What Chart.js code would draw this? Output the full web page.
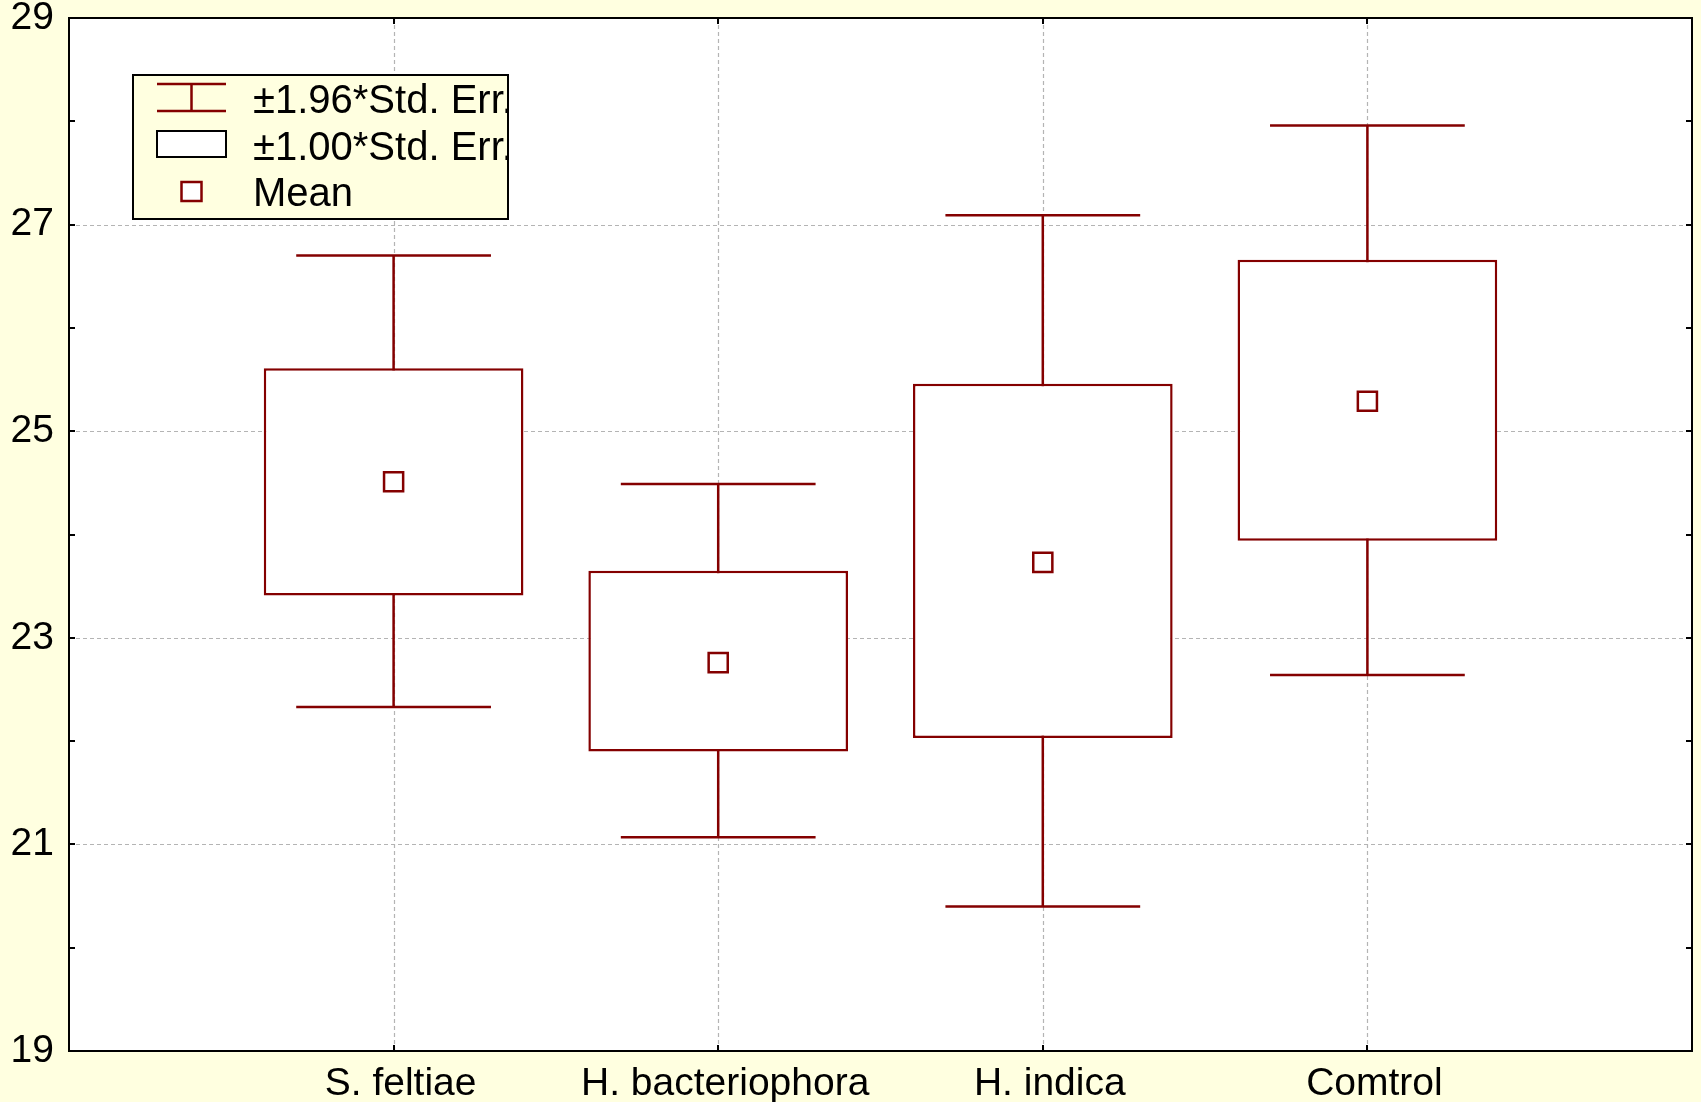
<!DOCTYPE html>
<html><head><meta charset="utf-8">
<script src="https://cdn.jsdelivr.net/npm/chart.js@4/dist/chart.umd.min.js"></script>
<style>html,body{margin:0;padding:0;background:#FFFFE0;overflow:hidden}canvas{display:block}</style>
</head><body><canvas id="c" width="1701" height="1102" style="width:1701px;height:1102px"></canvas>
<script>
// ---- data ----
const categories = ['S. feltiae', 'H. bacteriophora', 'H. indica', 'Comtrol'];
const means  = [24.51, 22.76, 23.73, 25.29];
const seLow  = [23.41, 21.90, 22.03, 23.94];
const seHigh = [25.61, 23.65, 25.46, 26.66];
const ciLow  = [22.33, 21.07, 20.40, 22.64];
const ciHigh = [26.70, 24.49, 27.09, 27.96];
const yTickLabels = [19, 21, 23, 25, 27, 29];
const legendLabels = ['±1.96*Std. Err.', '±1.00*Std. Err.', 'Mean'];

// ---- style ----
const RED = '#840000';
const BG = '#FFFFE0';
const FONT = "'Liberation Sans', Arial, sans-serif";
const CAP_HALF = 0.3;
const LW = 2.5;

const xPos = categories.map((c, i) => i + 1);

const whiskerData = [];
const capData = [];
xPos.forEach((x, i) => {
  whiskerData.push({x: x, y: ciLow[i]}, {x: x, y: ciHigh[i]}, {x: x, y: null});
  capData.push({x: x - CAP_HALF, y: ciHigh[i]}, {x: x + CAP_HALF, y: ciHigh[i]}, {x: x, y: null});
  capData.push({x: x - CAP_HALF, y: ciLow[i]}, {x: x + CAP_HALF, y: ciLow[i]}, {x: x, y: null});
});
const boxData = xPos.map((x, i) => ({x: x, y: [seLow[i], seHigh[i]]}));
const meanData = xPos.map((x, i) => ({x: x, y: means[i]}));

const decor = {
  id: 'decor',
  beforeDraw(chart) {
    const {ctx, chartArea: a} = chart;
    ctx.save();
    ctx.fillStyle = BG;
    ctx.fillRect(0, 0, chart.width, chart.height);
    ctx.fillStyle = '#ffffff';
    ctx.fillRect(a.left, a.top, a.right - a.left, a.bottom - a.top);
    ctx.restore();
  },
  beforeDatasetsDraw(chart) {
    const {ctx, chartArea: a, scales: {x, y}} = chart;
    ctx.save();
    ctx.strokeStyle = '#b4b4b4';
    ctx.lineWidth = 1.2;
    ctx.setLineDash([4, 3]);
    yTickLabels.forEach(v => {
      if (v === y.min || v === y.max) return;
      const py = Math.round(y.getPixelForValue(v)) + 0.5;
      ctx.beginPath(); ctx.moveTo(a.left, py); ctx.lineTo(a.right, py); ctx.stroke();
    });
    xPos.forEach(v => {
      const px = Math.round(x.getPixelForValue(v)) + 0.5;
      ctx.beginPath(); ctx.moveTo(px, a.top); ctx.lineTo(px, a.bottom); ctx.stroke();
    });
    ctx.restore();
  },
  afterDatasetsDraw(chart) {
    const {ctx, chartArea: a, scales: {x, y}} = chart;
    ctx.save();
    ctx.setLineDash([]);
    ctx.strokeStyle = '#000';
    ctx.lineWidth = 2;
    const TL = 6;
    for (let v = y.min; v <= y.max; v++) {
      const py = Math.round(y.getPixelForValue(v));
      ctx.beginPath();
      ctx.moveTo(a.left, py); ctx.lineTo(a.left + TL, py);
      ctx.moveTo(a.right, py); ctx.lineTo(a.right - TL, py);
      ctx.stroke();
    }
    xPos.forEach(v => {
      const px = Math.round(x.getPixelForValue(v));
      ctx.beginPath();
      ctx.moveTo(px, a.top); ctx.lineTo(px, a.top + TL);
      ctx.moveTo(px, a.bottom); ctx.lineTo(px, a.bottom - TL);
      ctx.stroke();
    });
    ctx.lineWidth = 2;
    ctx.strokeRect(a.left, a.top, a.right - a.left, a.bottom - a.top);

    // legend
    const L = a.left + 64, T = a.top + 57, W = 375, H = 144;
    ctx.fillStyle = BG;
    ctx.fillRect(L, T, W, H);
    ctx.lineWidth = 2;
    ctx.strokeStyle = '#000';
    ctx.strokeRect(L, T, W, H);
    ctx.strokeStyle = RED; ctx.lineWidth = LW;
    const sx0 = L + 24, sx1 = L + 93, sxm = (sx0 + sx1) / 2;
    ctx.beginPath();
    ctx.moveTo(sx0, T + 9); ctx.lineTo(sx1, T + 9);
    ctx.moveTo(sx0, T + 36); ctx.lineTo(sx1, T + 36);
    ctx.moveTo(sxm, T + 9); ctx.lineTo(sxm, T + 36);
    ctx.stroke();
    ctx.fillStyle = '#fff';
    ctx.fillRect(sx0, T + 56, sx1 - sx0, 26);
    ctx.strokeStyle = '#000'; ctx.lineWidth = 2;
    ctx.strokeRect(sx0, T + 56, sx1 - sx0, 26);
    ctx.fillStyle = '#fff';
    ctx.fillRect(sxm - 10, T + 107, 20, 19);
    ctx.strokeStyle = RED; ctx.lineWidth = LW;
    ctx.strokeRect(sxm - 10, T + 107, 20, 19);
    ctx.beginPath(); ctx.rect(L, T, W, H); ctx.clip();
    ctx.fillStyle = '#000';
    ctx.font = '40px ' + FONT;
    ctx.textBaseline = 'middle';
    ctx.textAlign = 'left';
    const rowsY = [T + 27, T + 74, T + 120];
    legendLabels.forEach((t, i) => ctx.fillText(t, L + 120, rowsY[i]));
    ctx.restore();
  }
};

new Chart(document.getElementById('c'), {
  type: 'bar',
  data: {
    datasets: [
      {type: 'line', data: whiskerData, borderColor: RED, borderWidth: LW, pointRadius: 0, spanGaps: false, fill: false, order: 4},
      {type: 'line', data: capData, borderColor: RED, borderWidth: LW, pointRadius: 0, spanGaps: false, fill: false, order: 3},
      {type: 'bar', data: boxData, backgroundColor: '#ffffff', borderColor: RED, borderWidth: LW, borderSkipped: false,
       barPercentage: 0.8, categoryPercentage: 1.0, order: 2},
      {type: 'line', data: meanData, showLine: false, pointStyle: 'rect', pointRadius: 13.5,
       pointBackgroundColor: '#ffffff', pointBorderColor: RED, pointBorderWidth: LW, order: 1}
    ]
  },
  options: {
    responsive: false,
    animation: false,
    events: [],
    layout: {autoPadding: false, padding: {top: 18, right: 9, left: 0, bottom: 0}},
    plugins: {legend: {display: false}, tooltip: {enabled: false}},
    scales: {
      x: {
        type: 'linear', min: 0, max: 5, offset: false,
        grid: {display: false, drawTicks: true, tickLength: 10, offset: false},
        border: {display: false},
        ticks: {
          stepSize: 1, autoSkip: false, maxRotation: 0, padding: 0, labelOffset: 7,
          color: '#000', font: {size: 39, family: FONT},
          callback: v => (v >= 1 && v <= categories.length) ? categories[v - 1] : ''
        },
        afterFit: s => { s.height = 51; s.paddingLeft = 0; s.paddingRight = 0; }
      },
      y: {
        type: 'linear', min: 19, max: 29,
        grid: {display: false, drawTicks: false},
        border: {display: false},
        ticks: {
          stepSize: 1, autoSkip: false, padding: 15,
          color: '#000', font: {size: 39, family: FONT},
          callback: v => yTickLabels.includes(v) ? String(v) : ''
        },
        afterFit: s => { s.width = 69; s.paddingTop = 0; s.paddingBottom = 0; }
      }
    }
  },
  plugins: [decor]
});
</script>
</body></html>
